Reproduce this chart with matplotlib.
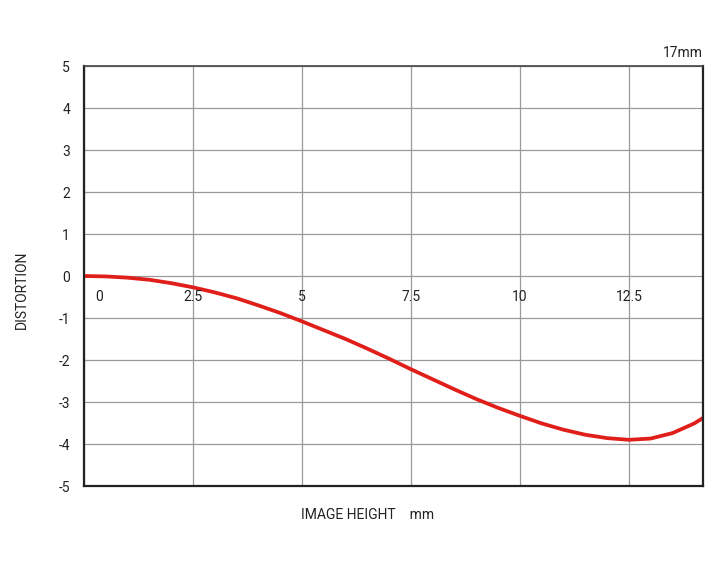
import numpy as np
import matplotlib
matplotlib.use("Agg")
import matplotlib.pyplot as plt

plt.rcParams['font.family'] = ['Roboto', 'DejaVu Sans']

# image height (mm) vs distortion (%)
img_height = [0, 0.5, 1, 1.5, 2, 2.5, 3, 3.5, 4, 4.5, 5, 5.5, 6, 6.5, 7, 7.5,
              8, 8.5, 9, 9.5, 10, 10.5, 11, 11.5, 12, 12.5, 13, 13.5, 14, 14.2]
distortion = [0, -0.01, -0.04, -0.09, -0.17, -0.27, -0.39, -0.53, -0.70, -0.88,
              -1.08, -1.29, -1.50, -1.73, -1.97, -2.22, -2.46, -2.70, -2.93, -3.14,
              -3.33, -3.51, -3.66, -3.78, -3.86, -3.90, -3.87, -3.74, -3.51, -3.38]

x_ticks = [0, 2.5, 5, 7.5, 10, 12.5]
x_tick_labels = ['0', '2.5', '5', '7.5', '10', '12.5']
y_ticks = [5, 4, 3, 2, 1, 0, -1, -2, -3, -4, -5]

fig = plt.figure(figsize=(7.2, 5.7), dpi=100)
ax = fig.add_axes([84 / 720, 1 - 486 / 570, 619 / 720, 420 / 570])

ax.set_xlim(0, 14.2)
ax.set_ylim(-5, 5)

ax.set_xticks(x_ticks)
ax.set_xticklabels([])
ax.set_yticks(y_ticks)
ax.set_yticklabels([str(v) for v in y_ticks], fontsize=10, color='#222222')
ax.tick_params(axis='both', length=0)
ax.tick_params(axis='y', pad=10)
ax.grid(True, color='#9a9a9a', linewidth=0.9)
ax.set_axisbelow(True)

for side in ['left', 'bottom', 'right']:
    ax.spines[side].set_linewidth(1.6)
    ax.spines[side].set_color('#222222')
ax.spines['top'].set_linewidth(1.2)
ax.spines['top'].set_color('#444444')

# x tick labels sit inside the plot just under the zero line
for xv, lab in zip(x_ticks, x_tick_labels):
    xx = xv + 0.35 if xv == 0 else xv
    ax.text(xx, -0.5, lab, ha='center', va='center', fontsize=10, color='#222222')

ax.plot(img_height, distortion, color='#e01e1a', linewidth=2.7,
        solid_capstyle='butt', solid_joinstyle='round')

fig.text(22 / 720, 1 - 290 / 570, 'DISTORTION', rotation=90, ha='center', va='center',
         fontsize=10, color='#222222')
fig.text(368 / 720, 1 - 515 / 570, 'IMAGE HEIGHT    mm', ha='center', va='center',
         fontsize=10, color='#222222')
fig.text(703 / 720, 1 - 53 / 570, '17mm', ha='right', va='center',
         fontsize=10, color='#222222')

fig.savefig('out.png', dpi=100, facecolor='white')
